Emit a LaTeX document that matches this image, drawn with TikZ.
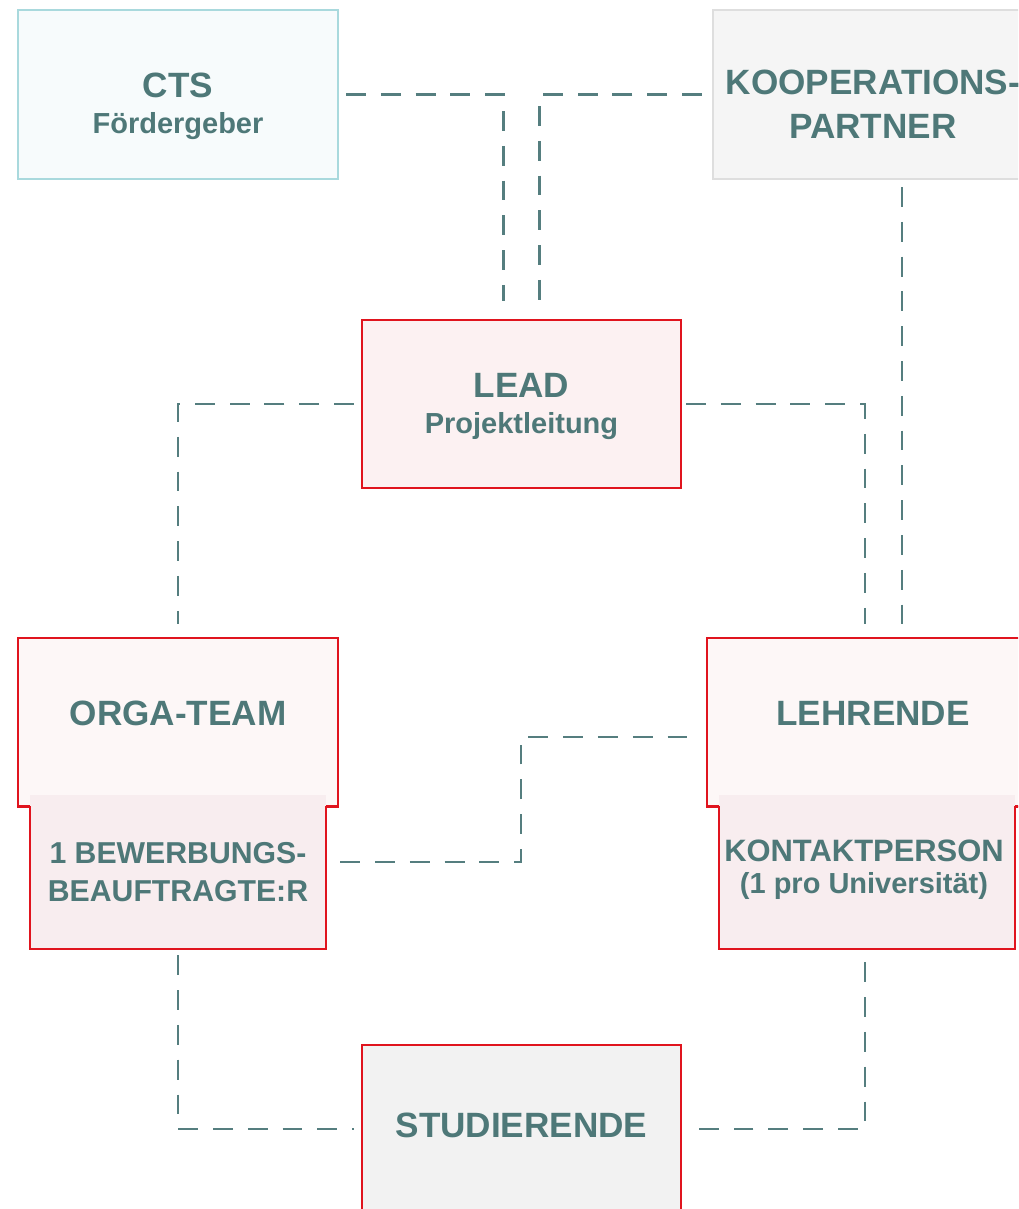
\documentclass[tikz,border=0pt]{standalone}
\usepackage{fontspec}
\setmainfont{Liberation Sans}
\usetikzlibrary{calc}
\definecolor{headteal}{HTML}{4E7878}
\definecolor{linkteal}{HTML}{557E7F}
\definecolor{boxred}{HTML}{E0141E}
\definecolor{leadpink}{HTML}{FCF1F2}
\definecolor{toppink}{HTML}{FDF7F7}
\definecolor{subpink}{HTML}{F8EDEF}
\definecolor{studgrey}{HTML}{F2F2F2}
\definecolor{ctsfill}{HTML}{F7FBFC}
\definecolor{ctsline}{HTML}{A9D9DD}
\definecolor{koopfill}{HTML}{F5F5F5}
\definecolor{koopline}{HTML}{DEDEDE}
\newcommand{\subsize}{\fontsize{16.5}{20.5}\selectfont}

\begin{document}
\begin{tikzpicture}[x=0.02cm,y=-0.02cm,
  box/.style={draw,line width=1.3pt,inner sep=0pt,minimum width=6.4cm,minimum height=3.36cm},
  redbox/.style={box,draw=boxred},
  subbox/.style={fill=subpink,inner sep=0pt,minimum width=5.92cm,minimum height=3.08cm},
  title/.style={text=headteal,align=center,inner sep=0pt,font=\bfseries\fontsize{20}{20.5}\selectfont},
  link/.style={draw=linkteal,line width=1.3pt,dash pattern=on 11.3pt off 8.5pt}]
  \useasboundingbox (0,0) rectangle (1018,1209);
  \clip (0,0) rectangle (1018,1209);

  % partner boxes on top
  \node (cts) [box,draw=ctsline,fill=ctsfill,minimum height=3.38cm] at (178,94.5) {};
  \node (cts-t) [title] at ($(cts)+(0,12)$) {CTS\\{\subsize Fördergeber}};
  \node (koop) [box,draw=koopline,fill=koopfill,minimum height=3.38cm] at (873,94.5) {};
  \node (koop-t) [title,font=\bfseries\fontsize{20}{25}\selectfont] at ($(koop)+(0,10)$) {KOOPERATIONS-\\PARTNER};

  % lead
  \node (lead) [redbox,fill=leadpink,minimum width=6.38cm] at (521.5,404) {};
  \node (lead-t) [title] at ($(lead)+(0,2)$) {LEAD\\{\subsize Projektleitung}};

  % orga-team with sub box
  \node (orga) [redbox,fill=toppink] at (178,722) {};
  \node (bewerb) [subbox] at (178,872) {};
  \draw[boxred,line width=1.3pt] (orga.south west) -- (bewerb.west |- orga.south) -- (bewerb.south west)
    -- (bewerb.south east) -- (bewerb.east |- orga.south) -- (orga.south east);
  \node (orga-t) [title] at ($(orga)+(0,-9)$) {ORGA-TEAM};
  \node (bewerb-t) [title,font=\bfseries\fontsize{17.2}{22}\selectfont] at (bewerb) {1 BEWERBUNGS-\\BEAUFTRAGTE:R};

  % lehrende with sub box
  \node (lehr) [redbox,fill=toppink] at (867,722) {};
  \node (kontakt) [subbox] at (867,872) {};
  \draw[boxred,line width=1.3pt] (lehr.south west) -- (kontakt.west |- lehr.south) -- (kontakt.south west)
    -- (kontakt.south east) -- (kontakt.east |- lehr.south) -- (lehr.south east);
  \node (lehr-t) [title] at ($(lehr)+(6,-9)$) {LEHRENDE};
  \node (kontakt-t) [title,font=\bfseries\fontsize{17.6}{18}\selectfont] at ($(kontakt)+(-3,-2)$) {KONTAKTPERSON\\{\subsize (1 pro Universität)}};

  % studierende
  \node (stud) [redbox,fill=studgrey,minimum width=6.38cm] at (521.5,1129) {};
  \node (stud-t) [title] at ($(stud)+(0,-4)$) {STUDIERENDE};

  % connectors
  \coordinate (bend) at (521,737);
  \draw[link] ($(cts.east)+(7,0)$) -| ($(lead.north)+(-18,-18)$);
  \draw[link] ($(koop.west)+(-10,0)$) -| ($(lead.north)+(18,-18)$);
  \draw[link] ($(lead.west)+(-7,0)$) -| ($(orga.north)+(0,-13)$);
  \draw[link] ($(lead.east)+(4,0)$) -| ($(lehr.north)+(-2,-13)$);
  \draw[link] ($(koop.south)+(29,7)$) -- ($(lehr.north)+(35,-13)$);
  \draw[link] ($(bewerb.east)+(14,-10)$) -| (bend) -- ($(lehr.west)+(-17,15)$);
  \draw[link] ($(bewerb.south)+(0,6)$) |- ($(stud.west)+(-7,0)$);
  \draw[link] ($(kontakt.south)+(-2,13)$) |- ($(stud.east)+(4,0)$);
\end{tikzpicture}
\end{document}
